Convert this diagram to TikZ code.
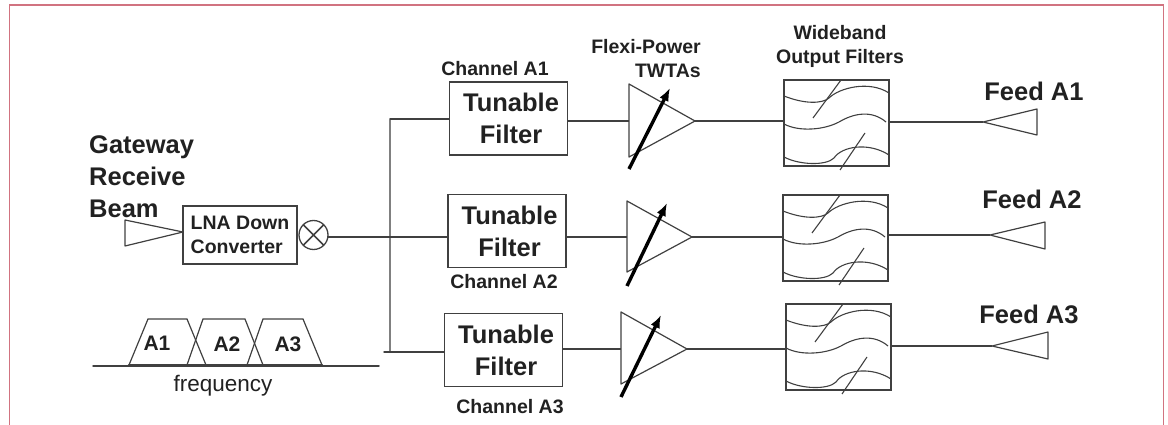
\documentclass[tikz,border=0pt]{standalone}
\usepackage{fontspec}
\setmainfont{Liberation Sans}
\usepackage{tkz-euclide}
\usetikzlibrary{arrows.meta,calc}
\definecolor{FrameClr}{rgb}{0.82,0.45,0.50}
\definecolor{LineClr}{rgb}{0.25,0.25,0.25}
\definecolor{TextClr}{rgb}{0.13,0.13,0.13}
\tikzset{
  bigtxt/.style={font=\fontsize{25.5}{32}\selectfont\bfseries,text=TextClr,inner sep=0pt,align=left},
  smalltxt/.style={font=\fontsize{19.5}{24}\selectfont\bfseries,text=TextClr,inner sep=0pt},
  ltrtxt/.style={font=\fontsize{21}{24}\selectfont\bfseries,text=TextClr,inner sep=0pt},
  tunebox/.style={draw=LineClr,line width=1.6pt,bigtxt,align=center,text width=118pt,
    minimum height=73pt,outer sep=0pt},
  tuneline/.style={line width=1.5pt,color=LineClr},
  knob/.style={line width=3.4pt,color=black,-{Latex[length=13pt,width=10pt]}},
  pics/wbfilter/.style={code={
    \node[draw=LineClr,line width=1.6pt,minimum width=105pt,minimum height=86pt,anchor=north west,
      inner sep=0pt,outer sep=0pt] (-box) at (0,0) {};
    \draw[line width=1.1pt,color=LineClr] (0,16) .. controls (20,24) and (38,24) .. (45,18)
      .. controls (55,8) and (85,0) .. (105,13);
    \draw[line width=1.1pt,color=LineClr] (0,44) .. controls (15,52) and (40,50) .. (55,42)
      .. controls (70,33) and (88,30) .. (102,42);
    \draw[line width=1.1pt,color=LineClr] (0,77) .. controls (15,85) and (42,86) .. (50,78)
      .. controls (58,66) and (85,62) .. (105,75);
    \draw[line width=1.1pt,color=LineClr] (29,38) -- (57,0);
    \draw[line width=1.1pt,color=LineClr] (56,90) -- (81,53);
  }}
}

\begin{document}
\begin{tikzpicture}[x=1pt,y=-1pt]
\useasboundingbox (0,0) rectangle (1168,425);
\tkzSetUpLine[line width=1.5pt,color=LineClr]

\tkzDefPoints{9.5/425/Fa,9.5/5/Fb,1163.5/5/Fc,1163.5/425/Fd}
\draw[color=FrameClr,line width=1.2pt] (Fa) -- (Fb) -- (Fc) -- (Fd);

\tkzDefPoints{125/220/Ha,125/246/Hb,183/232/Hc}
\tkzDefPoints{390/119/BusT,390/352/BusB,384/352/BusS,390/237/BusM}
\tkzDefPoints{629/84/AmpAa,629/157/AmpAb,695/121/AmpAc,629/169/KnobAa,670/88/KnobAb}
\tkzDefPoints{627/201/AmpBa,627/272/AmpBb,692/237/AmpBc,627/286/KnobBa,667/203/KnobBb}
\tkzDefPoints{621/312/AmpCa,621/384/AmpCb,687/349/AmpCc,621/397/KnobCa,661/315/KnobCb}
\tkzDefPoints{983/122/FdAa,1037/109/FdAb,1037/135/FdAc}
\tkzDefPoints{990/235/FdBa,1045/222/FdBb,1045/249/FdBc}
\tkzDefPoints{992/346/FdCa,1048/332/FdCb,1048/359/FdCc}
\tkzDefPoints{129/365/TaA,148/319/TbA,187/319/TcA,206/365/TdA}
\tkzDefPoints{187/365/TaB,203/319/TbB,245/319/TcB,263/365/TdB}
\tkzDefPoints{247/365/TaC,263/319/TbC,303/319/TcC,322/365/TdC}
\tkzDefPoints{93/366/AxL,379/366/AxR}

\node[draw=LineClr,line width=1.5pt,minimum width=114pt,minimum height=58pt,inner sep=0pt,outer sep=0pt,
  smalltxt,align=left] (LNA) at (240,235) {LNA Down\\Converter};
\node[draw=LineClr,line width=1.3pt,circle,minimum size=29pt,inner sep=0pt,outer sep=0pt] (Mix) at (313.5,235) {};
\draw[tuneline] (Mix.45) -- (Mix.225) (Mix.135) -- (Mix.315);

\node[tunebox] (TFa) at (508.5,118.5) {\hspace*{5pt}Tunable\\\hspace*{5pt}Filter};
\node[tunebox] (TFb) at (507,231) {\hspace*{5pt}Tunable\\\hspace*{5pt}Filter};
\node[tunebox] (TFc) at (503.5,350) {\hspace*{5pt}Tunable\\\hspace*{5pt}Filter};

\pic (OFa) at (784,80) {wbfilter};
\pic (OFb) at (783,195) {wbfilter};
\pic (OFc) at (786,304) {wbfilter};

\tkzDrawPolygon[line width=1.2pt](Ha,Hb,Hc)
\tkzDrawPolygons[line width=1.2pt](AmpAa,AmpAb,AmpAc AmpBa,AmpBb,AmpBc AmpCa,AmpCb,AmpCc)
\tkzDrawPolygons[line width=1.2pt](FdAa,FdAb,FdAc FdBa,FdBb,FdBc FdCa,FdCb,FdCc)
\tkzDrawSegments[color=gray,line width=2pt](BusT,BusB)
\tkzDrawSegments(BusS,BusB)
\draw[knob] (KnobAa) -- (KnobAb);
\draw[knob] (KnobBa) -- (KnobBb);
\draw[knob] (KnobCa) -- (KnobCb);

\draw[tuneline] (Mix.east |- BusM) -- (BusM -| TFb.west);
\draw[tuneline] (BusT) -- (BusT -| TFa.west);
\draw[tuneline] (BusB) -- (BusB -| TFc.west);
\draw[tuneline] (TFa.east |- AmpAc) -- (AmpAc -| AmpAa);
\draw[tuneline] (TFb.east |- AmpBc) -- (AmpBc -| AmpBa);
\draw[tuneline] (TFc.east |- AmpCc) -- (AmpCc -| AmpCa);
\draw[tuneline] (AmpAc) -- (AmpAc -| OFa-box.west);
\draw[tuneline] (AmpBc) -- (AmpBc -| OFb-box.west);
\draw[tuneline] (AmpCc) -- (AmpCc -| OFc-box.west);
\draw[tuneline] (FdAa -| OFa-box.east) -- (FdAa);
\draw[tuneline] (FdBa -| OFb-box.east) -- (FdBa);
\draw[tuneline] (FdCa -| OFc-box.east) -- (FdCa);

\tkzDrawPolySeg[line width=1.2pt](TaA,TbA,TcA,TdA)
\tkzDrawPolySeg[line width=1.2pt](TaB,TbB,TcB,TdB)
\tkzDrawPolySeg[line width=1.2pt](TaC,TbC,TcC,TdC)
\tkzDrawSegments(AxL,AxR)
\tkzDrawSegments[line width=2.4pt](TaA,TdC)

\node[bigtxt,anchor=west] (GwLbl) at (89,177) {Gateway\\Receive\\Beam};
\node[ltrtxt] (LblA) at (157,343) {A1};
\node[ltrtxt] (LblB) at (227,344) {A2};
\node[ltrtxt] (LblC) at (288,344) {A3};
\node[font=\fontsize{22.5}{26}\selectfont,text=TextClr,inner sep=0pt] (FreqLbl) at (223,386) {frequency};
\node[smalltxt] (ChA) at (495,69) {Channel A1};
\node[smalltxt] (ChB) at (504,282) {Channel A2};
\node[smalltxt] (ChC) at (510,407) {Channel A3};
\node[smalltxt,align=right] (TwLbl) at (646,59) {Flexi-Power\\TWTAs};
\node[smalltxt,align=center] (OfLbl) at (840,46) {Wideband\\Output Filters};
\node[bigtxt] (FeedA) at (1034,91) {Feed A1};
\node[bigtxt] (FeedB) at (1032,199) {Feed A2};
\node[bigtxt] (FeedC) at (1029,314) {Feed A3};
\end{tikzpicture}
\end{document}
